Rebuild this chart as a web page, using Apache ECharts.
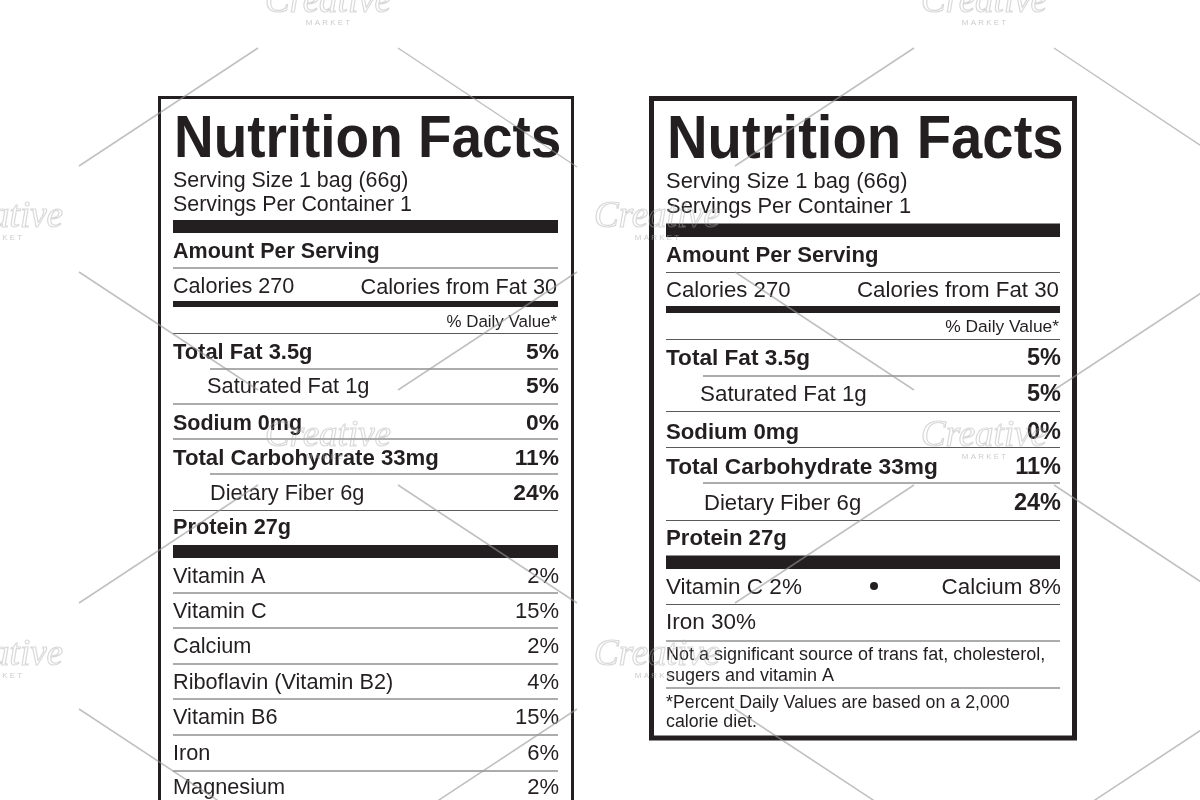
<!DOCTYPE html>
<html>
<head>
<meta charset="utf-8">
<title>Nutrition Facts</title>
<style>
html, body { margin: 0; padding: 0; background: #fff; }
#main { width: 1200px; height: 800px; }
</style>
<script src="https://cdn.jsdelivr.net/npm/echarts@6/dist/echarts.min.js"></script>
</head>
<body>
<div id="main"></div>
<script>
// label text, left panel
var titleText = 'Nutrition Facts';
var servingText = ['Serving Size 1 bag (66g)', 'Servings Per Container 1'];
var amountText = 'Amount Per Serving';
var caloriesText = ['Calories 270', 'Calories from Fat 30'];
var dailyText = '% Daily Value*';
var macroNames = ['Total Fat 3.5g', 'Saturated Fat 1g', 'Sodium 0mg', 'Total Carbohydrate 33mg', 'Dietary Fiber 6g', 'Protein 27g'];
var macroValues = ['5%', '5%', '0%', '11%', '24%', ''];
var macroBold = [true, false, true, true, false, true];
var vitaminNames = ['Vitamin A', 'Vitamin C', 'Calcium', 'Riboflavin (Vitamin B2)', 'Vitamin B6', 'Iron', 'Magnesium'];
var vitaminValues = ['2%', '15%', '2%', '4%', '15%', '6%', '2%'];
// label text, right panel only
var shortVitamins = ['Vitamin C 2%', 'Calcium 8%', 'Iron 30%'];
var footNotes = ['Not a significant source of trans fat, cholesterol,', 'sugers and vitamin A', '*Percent Daily Values are based on a 2,000', 'calorie diet.'];
var markText = ['Creative', 'M A R K E T'];

var ink = '#231f20';
var rule = '#5a5a5a';
var sans = '"Liberation Sans", Arial, sans-serif';
var items = [];

function txt(s, x, base, size, bold, right) {
    items.push({
        type: 'text',
        z: 5,
        style: {
            text: s,
            x: x,
            y: base + 1 - size * 0.31,
            fill: ink,
            font: (bold ? 'bold ' : '') + size + 'px ' + sans,
            align: right ? 'right' : 'left',
            verticalAlign: 'middle'
        }
    });
}
// the title is set tighter than Liberation, so squeeze it
function title(x, base, size, squeeze) {
    items.push({
        type: 'text',
        z: 5,
        x: x,
        y: base + 2 - size * 0.31,
        scaleX: squeeze,
        style: {
            text: titleText,
            x: 0,
            y: 0,
            fill: ink,
            font: 'bold ' + size + 'px ' + sans,
            align: 'left',
            verticalAlign: 'middle'
        }
    });
}
function bar(x1, x2, y1, y2) {
    items.push({ type: 'rect', z: 4, shape: { x: x1, y: y1, width: x2 - x1, height: y2 - y1 }, style: { fill: ink } });
}
function hline(x1, x2, y, w) {
    items.push({ type: 'line', z: 4, shape: { x1: x1, y1: y, x2: x2, y2: y }, style: { stroke: rule, lineWidth: w || 1.2 } });
}

// left label ------------------------------
(function() {
    var l = 173, r = 558;
    items.push({ type: 'rect', z: 3, shape: { x: 159.5, y: 97.5, width: 413, height: 740 }, style: { fill: '#fff', stroke: ink, lineWidth: 3 } });
    title(174, 157, 60, 0.915);
    txt(servingText[0], l, 187, 21.4);
    txt(servingText[1], l, 211, 21.4);
    bar(l, r, 220, 233);
    txt(amountText, l, 258, 21.5, true);
    hline(l, r, 268);
    txt(caloriesText[0], l, 293, 21.6);
    txt(caloriesText[1], r - 1, 293.5, 21.7, false, true);
    bar(l, r, 301, 307);
    txt(dailyText, r - 1, 327, 16.9, false, true);
    hline(l, r, 333.5);

    var macroBase = [359, 393, 430, 465, 500, 534];
    var macroX = [l, 207, l, l, 210, l];
    var macroSize = [21.9, 21.8, 21.5, 22.2, 21.7, 21.7];
    var macroLine = [369, 404, 439, 474, 510.5];
    var macroLineX = [210, l, l, 210, l];
    macroNames.forEach(function(n, i) {
        txt(n, macroX[i], macroBase[i], macroSize[i], macroBold[i]);
        // 纤维那一行的百分比也是粗体
        txt(macroValues[i], r + 1, macroBase[i], 22.8, true, true);
        if (i < macroLine.length) hline(macroLineX[i], r, macroLine[i]);
    });
    bar(l, r, 545, 558);

    var vitBase = [583, 618, 653, 689, 724, 760, 794];
    var vitLine = [593, 628, 664, 699, 735, 771];
    vitaminNames.forEach(function(n, i) {
        txt(n, l, vitBase[i], 21.7);
        txt(vitaminValues[i], r + 1, vitBase[i], 22, false, true);
        if (i < vitLine.length) hline(l, r, vitLine[i]);
    });
})();

// right label -----------------------------
(function() {
    var l = 666, r = 1060;
    items.push({ type: 'rect', z: 3, shape: { x: 651.5, y: 98.5, width: 423, height: 639.5 }, style: { fill: '#fff', stroke: ink, lineWidth: 5 } });
    title(667, 158, 61.5, 0.914);
    txt(servingText[0], l, 188, 21.95);
    txt(servingText[1], l, 213, 21.95);
    bar(l, r, 223.5, 237);
    txt(amountText, l, 262, 22.1, true);
    hline(l, r, 272.5);
    txt(caloriesText[0], l, 297, 22.2);
    txt(caloriesText[1], r - 1, 297, 22.3, false, true);
    bar(l, r, 306, 313);
    txt(dailyText, r - 1, 332, 17.4, false, true);
    hline(l, r, 339.5);

    var macroBase = [365, 401, 439, 474, 510, 545];
    var macroX = [l, 700, l, l, 704, l];
    var macroSize = [22.6, 22.4, 22.2, 22.7, 22.1, 22.2];
    var macroLine = [376, 411.5, 447.5, 483, 520.5];
    var macroLineX = [703, l, l, 703, l];
    macroNames.forEach(function(n, i) {
        txt(n, macroX[i], macroBase[i], macroSize[i], macroBold[i]);
        txt(macroValues[i], r + 1, macroBase[i], 23.5, true, true);
        if (i < macroLine.length) hline(macroLineX[i], r, macroLine[i]);
    });
    bar(l, r, 555.5, 569);

    txt(shortVitamins[0], l, 594, 22.5);
    items.push({ type: 'circle', z: 4, shape: { cx: 874, cy: 586, r: 4 }, style: { fill: ink } });
    txt(shortVitamins[1], r + 1, 594, 22.4, false, true);
    hline(l, r, 604.5);
    txt(shortVitamins[2], l, 629, 22.5);
    hline(l, r, 641);
    txt(footNotes[0], l, 660, 18);
    txt(footNotes[1], l, 681, 18);
    hline(l, r, 688);
    txt(footNotes[2], l, 708, 17.8);
    txt(footNotes[3], l, 727, 17.8);
})();

// watermark on top of everything ---------------
var markLines = [
    [79, 166, 258, 48], [398, 48, 577, 167], [735, 166, 914, 48], [1054, 48, 1233, 167],
    [79, 272, 258, 390], [398, 390, 577, 272], [735, 272, 914, 390], [1054, 390, 1233, 272],
    [79, 603, 258, 485], [398, 485, 577, 603], [735, 603, 914, 485], [1054, 485, 1233, 603],
    [79, 709, 258, 827], [398, 827, 577, 709], [735, 709, 914, 827], [1054, 827, 1233, 709]
];
markLines.forEach(function(p) {
    items.push({ type: 'line', z: 8, shape: { x1: p[0], y1: p[1], x2: p[2], y2: p[3] }, style: { stroke: 'rgba(150,150,150,0.6)', lineWidth: 1.5 } });
});
var markSpots = [[328, 2], [984, 2], [0, 217], [657, 217], [328, 436], [984, 436], [0, 655], [657, 655]];
markSpots.forEach(function(p) {
    items.push({
        type: 'text', z: 8,
        style: {
            text: markText[0], x: p[0], y: p[1], fill: 'rgba(255,255,255,0)',
            stroke: 'rgba(170,170,170,0.45)', lineWidth: 1.2,
            font: 'italic 37px "Liberation Serif", serif', align: 'center', verticalAlign: 'middle'
        }
    });
    items.push({
        type: 'text', z: 8,
        style: {
            text: markText[1], x: p[0], y: p[1] + 21, fill: 'rgba(170,170,170,0.6)',
            font: '8px ' + sans, align: 'center', verticalAlign: 'middle'
        }
    });
});

var myChart = echarts.init(document.getElementById('main'));
myChart.setOption({
    backgroundColor: '#fff',
    animation: false,
    graphic: { elements: items }
});
</script>
</body>
</html>
